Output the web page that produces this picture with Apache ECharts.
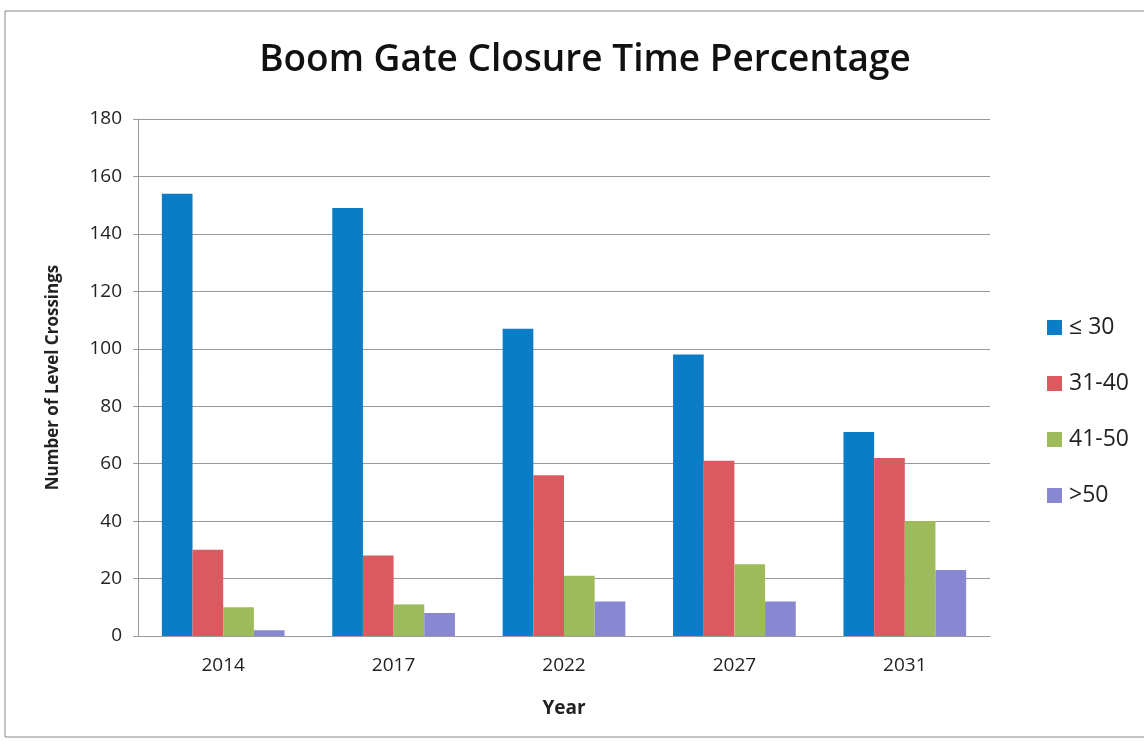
<!DOCTYPE html>
<html><head><meta charset="utf-8">
<script src="https://cdn.jsdelivr.net/npm/echarts@6/dist/echarts.min.js"></script>
<style>html,body{margin:0;padding:0;background:#fff}#c{width:1144px;height:746px}</style>
</head><body><div id="c"></div>
<script>
const categories = ['2014', '2017', '2022', '2027', '2031'];
const seriesNames = ['≤ 30', '31-40', '41-50', '>50'];
const le30 = [154, 149, 107, 98, 71];
const r31_40 = [30, 28, 56, 61, 62];
const r41_50 = [10, 11, 21, 25, 40];
const gt50 = [2, 8, 12, 12, 23];
const yTicks = { min: 0, max: 180, interval: 20 };

const colors = ['#0B7DC6', '#DA5A60', '#9DBB5B', '#8787D2'];
const values = [le30, r31_40, r41_50, gt50];
const font = '"Open Sans", "Noto Sans", sans-serif';

const chart = echarts.init(document.getElementById('c'));
chart.setOption({
  animation: false,
  backgroundColor: '#fff',
  graphic: [{ type: 'rect', shape: { x: 5, y: 11, width: 1150, height: 726 }, style: { fill: 'none', stroke: '#888', lineWidth: 1 } }],
  title: { text: 'Boom Gate Closure Time Percentage', left: 580, top: 37, textAlign: 'center',
    textStyle: { fontFamily: font, fontSize: 37, fontWeight: 600, color: '#111' } },
  legend: { orient: 'vertical', left: 1042, top: 311, itemGap: 33, itemWidth: 15, itemHeight: 15, icon: 'rect',
    textStyle: { fontFamily: font, fontSize: 23, color: '#222', padding: [0, 0, 0, 2] } },
  grid: { left: 138, right: 154, top: 119, bottom: 110 },
  xAxis: { type: 'category', data: categories, name: 'Year', nameLocation: 'middle', nameGap: 63,
    nameTextStyle: { fontFamily: font, fontSize: 19, fontWeight: 'bold', color: '#222' },
    axisLine: { lineStyle: { color: '#999' } }, axisTick: { show: false },
    axisLabel: { fontFamily: font, fontSize: 19, color: '#222', margin: 20 } },
  yAxis: { type: 'value', min: yTicks.min, max: yTicks.max, interval: yTicks.interval,
    name: 'Number of Level Crossings', nameLocation: 'middle', nameGap: 76,
    nameTextStyle: { fontFamily: font, fontSize: 17, fontWeight: 'bold', color: '#222' },
    axisLine: { show: true, lineStyle: { color: '#999' } }, axisTick: { show: true, length: 5, lineStyle: { color: '#999' } },
    splitLine: { lineStyle: { color: '#999', width: 1 } },
    axisLabel: { fontFamily: font, fontSize: 19, color: '#222', margin: 16 } },
  series: seriesNames.map((n, i) => ({
    name: n, type: 'bar', data: values[i], barGap: '0%', barCategoryGap: '28%',
    itemStyle: { color: colors[i] }
  }))
});
</script></body></html>
